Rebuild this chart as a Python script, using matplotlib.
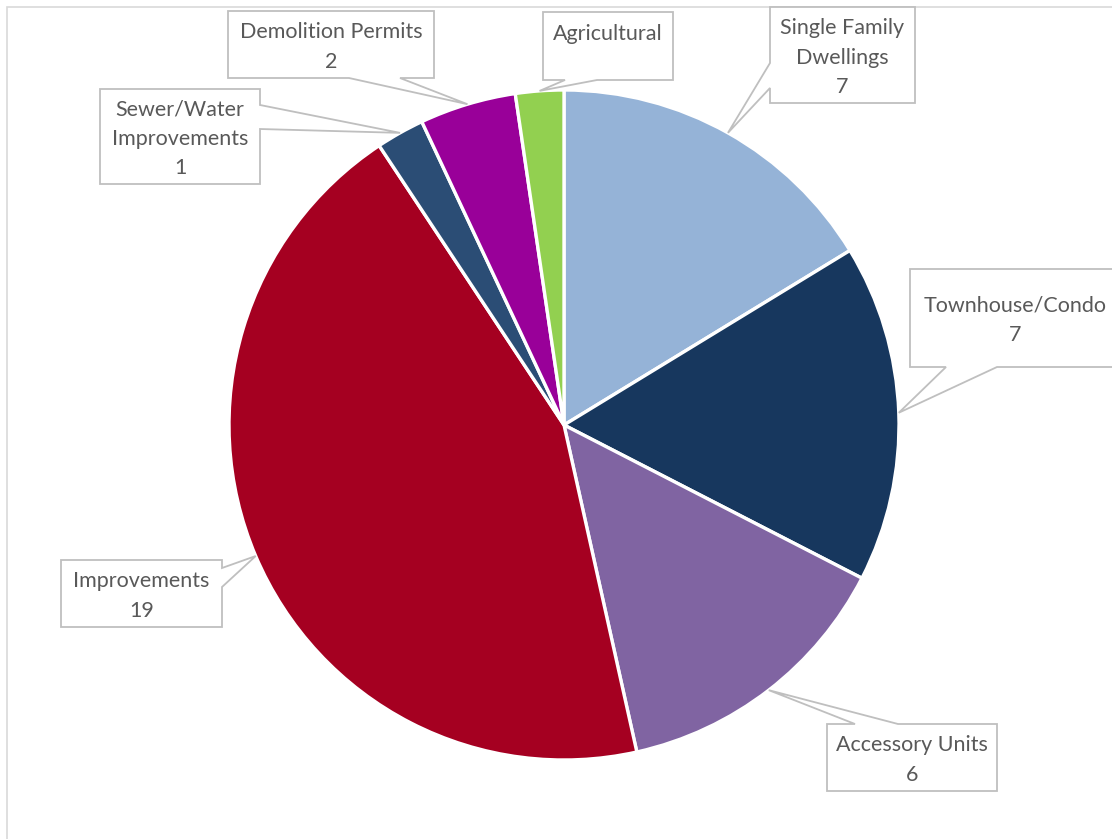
"""Building permits by type, pie chart with callout labels."""

import matplotlib
matplotlib.use("Agg")
import matplotlib.pyplot as plt
import numpy as np
from matplotlib.patches import Polygon

W, H = 1112, 839

categories = ["Single Family\nDwellings", "Townhouse/Condo", "Accessory Units",
              "Improvements", "Sewer/Water\nImprovements", "Demolition Permits",
              "Agricultural"]
values = [7, 7, 6, 19, 1, 2, 1]
show_value = [True, True, True, True, True, True, False]
colors = ["#95B3D7", "#17375E", "#8064A2", "#A50021", "#2B4D75", "#990099", "#92D050"]

# callout boxes in pixel coords: (left, top, right, bottom), side of pointer, pointer base
boxes = [
    ((770, 7, 915, 103), "left", (63, 88)),
    ((910, 269, 1122, 367), "bottom", (946, 997)),
    ((827, 724, 997, 791), "top", (855, 898)),
    ((61, 560, 222, 627), "right", (568, 587)),
    ((100, 89, 260, 184), "right", (105, 129)),
    ((228, 11, 434, 78), "bottom", (349, 400)),
    ((543, 12, 673, 80), "bottom", (565, 597)),
]

TEXT = "#595959"
EDGE = "#BFBFBF"


def px(x, y):
    return x, H - y


def callout_path(box, side, base, tip):
    x0, y0, x1, y1 = box
    a, b = base
    tx, ty = tip
    if side == "top":
        pts = [(x0, y0), (a, y0), (tx, ty), (b, y0), (x1, y0), (x1, y1), (x0, y1)]
    elif side == "right":
        pts = [(x0, y0), (x1, y0), (x1, a), (tx, ty), (x1, b), (x1, y1), (x0, y1)]
    elif side == "bottom":
        pts = [(x0, y0), (x1, y0), (x1, y1), (b, y1), (tx, ty), (a, y1), (x0, y1)]
    else:
        pts = [(x0, y0), (x1, y0), (x1, y1), (x0, y1), (x0, b), (tx, ty), (x0, a)]
    return [px(x, y) for x, y in pts]


fig = plt.figure(figsize=(W / 100, H / 100), dpi=100)
ax = fig.add_axes([0, 0, 1, 1])

# chart frame (runs off the right and bottom of the image)
ax.plot([7, 7, W + 5], [-5, H - 7, H - 7], color="#D9D9D9", lw=1.2,
        solid_joinstyle="miter")

cx, cy = px(564, 425)
R = 335
wedges, _ = ax.pie(values, colors=colors, startangle=90, counterclock=False,
                   center=(cx, cy), radius=R, frame=True,
                   wedgeprops=dict(edgecolor="white", linewidth=2.4))
ax.set_xlim(0, W)
ax.set_ylim(0, H)
ax.set_aspect("equal")
ax.axis("off")

for w, name, val, show, (box, side, base) in zip(wedges, categories, values,
                                                  show_value, boxes):
    mid = np.deg2rad((w.theta1 + w.theta2) / 2)
    tip_x = cx + R * np.cos(mid)
    tip_y = H - (cy + R * np.sin(mid))
    verts = callout_path(box, side, base, (tip_x, tip_y))
    ax.add_patch(Polygon(verts, closed=True, facecolor="white", edgecolor=EDGE,
                         lw=1.3, zorder=5))
    x0, y0, x1, y1 = box
    label = f"{name}\n{val}" if show else f"{name}\n "
    tx = (x0 + min(x1, 1120)) / 2
    ax.text(*px(tx, (y0 + y1) / 2 + 2.5), label, ha="center", va="center",
            fontsize=15.5, family="Lato", color=TEXT, linespacing=1.58, zorder=6)

fig.savefig("out.png", dpi=100)
